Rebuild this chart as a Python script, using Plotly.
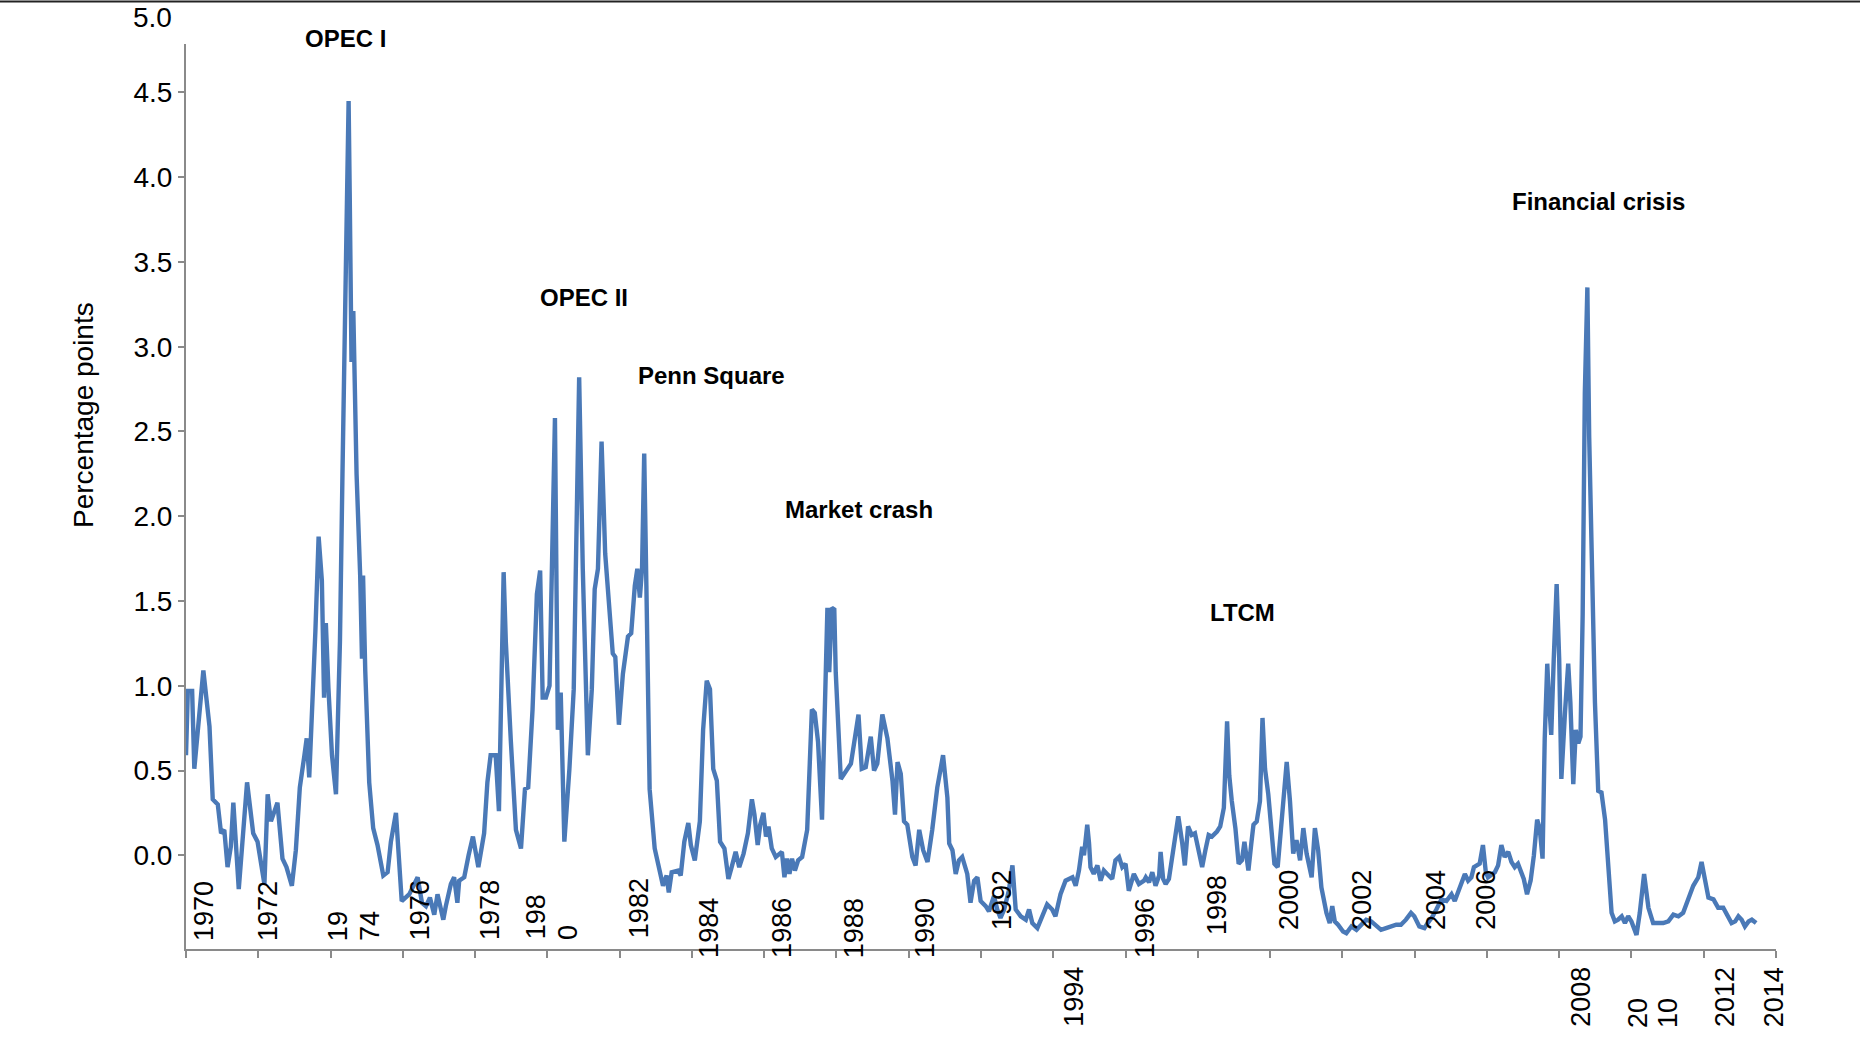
import plotly.graph_objects as go

# ---------------- data ----------------
years = [
    1970.00, 1970.05, 1970.17, 1970.23, 1970.48, 1970.65, 1970.74, 1970.88, 1970.97, 1971.06,
    1971.15, 1971.24, 1971.31, 1971.46, 1971.69, 1971.86, 1971.98, 1972.17, 1972.26, 1972.35,
    1972.53, 1972.67, 1972.78, 1972.93, 1973.04, 1973.15, 1973.27, 1973.34, 1973.41, 1973.50,
    1973.58, 1973.67, 1973.76, 1973.82, 1973.87, 1973.94, 1974.04, 1974.15, 1974.26, 1974.33,
    1974.40, 1974.50, 1974.53, 1974.58, 1974.63, 1974.72, 1974.82, 1974.87, 1974.90, 1974.96,
    1975.07, 1975.18, 1975.30, 1975.46, 1975.58, 1975.67, 1975.81, 1975.90, 1975.97, 1976.18,
    1976.41, 1976.53, 1976.64, 1976.75, 1976.87, 1976.96, 1977.12, 1977.19, 1977.33, 1977.42,
    1977.51, 1977.56, 1977.70, 1977.82, 1977.94, 1978.09, 1978.25, 1978.34, 1978.43, 1978.57,
    1978.66, 1978.79, 1978.85, 1978.99, 1979.13, 1979.27, 1979.38, 1979.47, 1979.59, 1979.71,
    1979.80, 1979.87, 1979.96, 1980.06, 1980.15, 1980.21, 1980.29, 1980.37, 1980.47, 1980.61,
    1980.73, 1980.81, 1980.88, 1980.98, 1981.12, 1981.23, 1981.31, 1981.40, 1981.50, 1981.60,
    1981.72, 1981.81, 1981.88, 1981.98, 1982.09, 1982.23, 1982.32, 1982.42, 1982.49, 1982.56,
    1982.62, 1982.68, 1982.74, 1982.83, 1982.97, 1983.11, 1983.20, 1983.30, 1983.36, 1983.44,
    1983.62, 1983.69, 1983.79, 1983.90, 1983.97, 1984.08, 1984.22, 1984.31, 1984.41, 1984.50,
    1984.59, 1984.69, 1984.78, 1984.90, 1985.01, 1985.10, 1985.21, 1985.31, 1985.43, 1985.55,
    1985.66, 1985.73, 1985.82, 1985.89, 1985.98, 1986.05, 1986.12, 1986.21, 1986.32, 1986.49,
    1986.56, 1986.63, 1986.70, 1986.77, 1986.85, 1986.94, 1987.05, 1987.19, 1987.32, 1987.40,
    1987.49, 1987.60, 1987.75, 1987.80, 1987.87, 1987.94, 1987.98, 1988.12, 1988.26, 1988.40,
    1988.61, 1988.70, 1988.81, 1988.95, 1989.04, 1989.13, 1989.27, 1989.41, 1989.55, 1989.62,
    1989.69, 1989.78, 1989.87, 1989.96, 1990.10, 1990.19, 1990.29, 1990.40, 1990.52, 1990.65,
    1990.79, 1990.95, 1991.07, 1991.12, 1991.21, 1991.30, 1991.39, 1991.48, 1991.62, 1991.71,
    1991.81, 1991.90, 1991.99, 1992.13, 1992.22, 1992.36, 1992.45, 1992.54, 1992.64, 1992.77,
    1992.87, 1992.96, 1993.10, 1993.24, 1993.33, 1993.42, 1993.56, 1993.70, 1993.83, 1993.97,
    1994.06, 1994.20, 1994.34, 1994.53, 1994.62, 1994.71, 1994.80, 1994.85, 1994.89, 1994.94,
    1994.99, 1995.03, 1995.12, 1995.22, 1995.31, 1995.40, 1995.49, 1995.63, 1995.72, 1995.82,
    1995.91, 1996.00, 1996.09, 1996.23, 1996.37, 1996.51, 1996.56, 1996.65, 1996.74, 1996.83,
    1996.93, 1996.97, 1997.04, 1997.11, 1997.20, 1997.29, 1997.46, 1997.57, 1997.64, 1997.73,
    1997.83, 1997.92, 1998.01, 1998.12, 1998.21, 1998.30, 1998.39, 1998.53, 1998.62, 1998.72,
    1998.81, 1998.87, 1998.94, 1999.04, 1999.13, 1999.22, 1999.29, 1999.40, 1999.48, 1999.54,
    1999.63, 1999.72, 1999.79, 1999.86, 1999.95, 2000.05, 2000.12, 2000.21, 2000.32, 2000.46,
    2000.55, 2000.64, 2000.73, 2000.83, 2000.92, 2001.01, 2001.15, 2001.24, 2001.33, 2001.42,
    2001.56, 2001.65, 2001.72, 2001.79, 2001.88, 2002.02, 2002.11, 2002.25, 2002.39, 2002.52,
    2002.66, 2002.80, 2002.94, 2003.07, 2003.21, 2003.35, 2003.49, 2003.62, 2003.76, 2003.90,
    2003.99, 2004.13, 2004.27, 2004.36, 2004.50, 2004.60, 2004.74, 2004.88, 2005.02, 2005.11,
    2005.25, 2005.39, 2005.48, 2005.57, 2005.64, 2005.80, 2005.89, 2005.97, 2006.03, 2006.13,
    2006.22, 2006.31, 2006.40, 2006.49, 2006.59, 2006.68, 2006.77, 2006.86, 2006.96, 2007.02,
    2007.11, 2007.21, 2007.30, 2007.39, 2007.46, 2007.54, 2007.60, 2007.67, 2007.72, 2007.78,
    2007.85, 2007.93, 2008.00, 2008.06, 2008.16, 2008.25, 2008.31, 2008.39, 2008.46, 2008.53,
    2008.59, 2008.65, 2008.71, 2008.78, 2008.83, 2008.90, 2008.99, 2009.08, 2009.17, 2009.27,
    2009.36, 2009.45, 2009.54, 2009.63, 2009.73, 2009.82, 2009.91, 2010.00, 2010.14, 2010.23,
    2010.35, 2010.47, 2010.60, 2010.74, 2010.88, 2011.02, 2011.16, 2011.30, 2011.43, 2011.57,
    2011.71, 2011.85, 2011.94, 2012.04, 2012.13, 2012.27, 2012.40, 2012.54, 2012.68, 2012.77,
    2012.87, 2012.96, 2013.05, 2013.14, 2013.24, 2013.33, 2013.45,
]

spread = [
    0.59, 0.97, 0.97, 0.51, 1.09, 0.76, 0.33, 0.30, 0.13, 0.15,
    -0.07, 0.05, 0.31, -0.20, 0.43, 0.13, 0.08, -0.17, 0.36, 0.20,
    0.31, -0.02, -0.07, -0.18, 0.03, 0.40, 0.58, 0.69, 0.46, 0.86,
    1.32, 1.88, 1.62, 0.93, 1.37, 0.99, 0.59, 0.36, 1.26, 2.25,
    3.24, 4.45, 3.91, 2.91, 3.21, 2.25, 1.65, 1.16, 1.65, 1.09,
    0.43, 0.16, 0.06, -0.12, -0.10, 0.08, 0.25, -0.03, -0.27, -0.23,
    -0.13, -0.28, -0.30, -0.25, -0.35, -0.23, -0.38, -0.30, -0.17, -0.13,
    -0.28, -0.15, -0.13, 0.00, 0.11, -0.07, 0.13, 0.43, 0.59, 0.59,
    0.26, 1.67, 1.26, 0.67, 0.15, 0.04, 0.39, 0.40, 0.86, 1.54,
    1.68, 0.93, 0.93, 1.00, 1.92, 2.58, 0.74, 0.96, 0.08, 0.51,
    0.98, 1.92, 2.82, 1.69, 0.59, 0.98, 1.57, 1.69, 2.44, 1.78,
    1.43, 1.19, 1.17, 0.77, 1.07, 1.29, 1.31, 1.59, 1.69, 1.52,
    1.69, 2.37, 1.59, 0.39, 0.04, -0.10, -0.18, -0.12, -0.22, -0.10,
    -0.09, -0.12, 0.08, 0.19, 0.06, -0.03, 0.20, 0.74, 1.03, 0.98,
    0.51, 0.44, 0.08, 0.04, -0.14, -0.07, 0.02, -0.07, 0.01, 0.13,
    0.33, 0.24, 0.06, 0.18, 0.25, 0.11, 0.17, 0.04, -0.01, 0.02,
    -0.13, -0.02, -0.11, -0.02, -0.09, -0.03, -0.01, 0.15, 0.86, 0.84,
    0.67, 0.21, 1.46, 1.08, 1.46, 1.45, 1.08, 0.45, 0.50, 0.54,
    0.83, 0.51, 0.52, 0.70, 0.50, 0.54, 0.83, 0.69, 0.44, 0.24,
    0.55, 0.48, 0.20, 0.18, -0.01, -0.06, 0.15, 0.03, -0.04, 0.15,
    0.40, 0.59, 0.34, 0.07, 0.03, -0.11, -0.03, -0.01, -0.11, -0.28,
    -0.15, -0.13, -0.27, -0.30, -0.33, -0.24, -0.32, -0.37, -0.32, -0.21,
    -0.06, -0.32, -0.36, -0.38, -0.32, -0.40, -0.43, -0.36, -0.29, -0.32,
    -0.36, -0.23, -0.15, -0.13, -0.18, -0.09, 0.05, 0.00, 0.07, 0.18,
    0.07, -0.07, -0.11, -0.06, -0.15, -0.09, -0.11, -0.14, -0.03, -0.01,
    -0.07, -0.05, -0.21, -0.11, -0.17, -0.15, -0.13, -0.16, -0.10, -0.18,
    -0.12, 0.02, -0.14, -0.17, -0.14, -0.01, 0.23, 0.07, -0.06, 0.17,
    0.12, 0.13, 0.03, -0.07, 0.03, 0.12, 0.11, 0.14, 0.17, 0.28,
    0.79, 0.47, 0.32, 0.16, -0.05, -0.03, 0.08, -0.09, 0.07, 0.18,
    0.20, 0.32, 0.81, 0.51, 0.36, 0.12, -0.05, -0.07, 0.20, 0.55,
    0.32, 0.01, 0.09, -0.03, 0.16, 0.01, -0.13, 0.16, 0.03, -0.19,
    -0.34, -0.40, -0.30, -0.39, -0.41, -0.45, -0.46, -0.42, -0.44, -0.41,
    -0.38, -0.39, -0.42, -0.44, -0.43, -0.42, -0.41, -0.41, -0.38, -0.34,
    -0.36, -0.42, -0.43, -0.40, -0.36, -0.32, -0.26, -0.27, -0.23, -0.27,
    -0.18, -0.11, -0.15, -0.13, -0.07, -0.05, 0.06, -0.10, -0.13, -0.11,
    -0.10, -0.06, 0.06, -0.01, 0.02, -0.04, -0.07, -0.05, -0.10, -0.14,
    -0.23, -0.15, 0.00, 0.21, 0.16, -0.02, 0.69, 1.13, 0.90, 0.71,
    1.16, 1.60, 1.16, 0.45, 0.84, 1.13, 0.90, 0.42, 0.74, 0.66,
    0.70, 1.42, 2.73, 3.35, 2.47, 1.68, 0.90, 0.38, 0.37, 0.21,
    -0.10, -0.34, -0.39, -0.38, -0.36, -0.40, -0.36, -0.39, -0.47, -0.34,
    -0.11, -0.31, -0.40, -0.40, -0.40, -0.39, -0.35, -0.36, -0.34, -0.26,
    -0.18, -0.13, -0.04, -0.15, -0.25, -0.26, -0.31, -0.31, -0.36, -0.40,
    -0.39, -0.36, -0.38, -0.42, -0.39, -0.38, -0.40,
]

y_tick_values = [0.0, 0.5, 1.0, 1.5, 2.0, 2.5, 3.0, 3.5, 4.0, 4.5]
x_tick_years = list(range(1970, 2015, 2))

# year labels as printed in the reference (some are broken in two pieces)
x_label_text = ["1970", "1972", "19", "74", "1976", "1978", "198", "0", "1982", "1984",
                "1986", "1988", "1990", "1992", "1994", "1996", "1998", "2000", "2002",
                "2004", "2006", "2008", "20", "10", "2012", "2014"]

event_names = ["OPEC I", "OPEC II", "Penn Square", "Market crash", "LTCM", "Financial crisis"]

# ---------------- layout helpers (positions, not data) ----------------
FONT = "Liberation Sans, Arial, Helvetica, sans-serif"
W, H = 1860, 1056
ML, MR, MT, MB = 186, 84, 44, 107
PLOT_H = H - MT - MB
PLOT_W = W - ML - MR
Y_MIN, Y_MAX = -0.553, 4.786
AXIS_GRAY = "#8a8a8a"
LINE_BLUE = "#4a79b7"


def py(px):
    """pixel row of the page -> paper y"""
    return (H - MB - px) / PLOT_H


def px_x(px):
    """pixel column of the page -> paper x"""
    return (px - ML) / PLOT_W


x_label_x = [1970.50, 1972.27, 1974.21, 1975.09, 1976.48, 1978.41, 1979.69, 1980.57, 1982.54, 1984.47,
             1986.49, 1988.49, 1990.45, 1992.58, 1994.57, 1996.54, 1998.53, 2000.52, 2002.54,
             2004.59, 2005.97, 2008.60, 2010.18, 2011.01, 2012.59, 2013.95]
x_label_ypx = [911, 911, 926, 926, 910, 910, 917, 932, 908, 928,
               928, 928, 928, 900, 997, 928, 905, 900, 900,
               900, 900, 997, 1013, 1013, 997, 997]
# event label centres: (x in years, y in page pixels)
event_pos = [(1974.40, 38), (1981.01, 297), (1984.55, 375), (1988.62, 510),
             (1999.25, 613), (2009.10, 202)]

fig = go.Figure()
fig.add_trace(go.Scatter(
    x=years, y=spread, mode="lines",
    line=dict(color=LINE_BLUE, width=4.4),
    hoverinfo="x+y", showlegend=False,
))

annotations = []
# x "tick" labels, rotated as in the reference
for txt, xv, ypx in zip(x_label_text, x_label_x, x_label_ypx):
    annotations.append(dict(
        text=txt, x=xv, xref="x", y=py(ypx), yref="paper",
        textangle=-90, showarrow=False, xanchor="center", yanchor="middle",
        font=dict(family=FONT, size=27, color="black"),
    ))
# event labels
for name, (ex, eypx) in zip(event_names, event_pos):
    annotations.append(dict(
        text="<b>%s</b>" % name, x=ex, xref="x", y=py(eypx), yref="paper",
        showarrow=False, xanchor="center", yanchor="middle",
        font=dict(family=FONT, size=24, color="black"),
    ))
# top label "5.0" (above the drawn axis)
annotations.append(dict(
    text="5.0", x=px_x(174), xref="paper", y=py(18), yref="paper",
    showarrow=False, xanchor="right", yanchor="middle",
    font=dict(family=FONT, size=28, color="black"),
))
# y-axis title
annotations.append(dict(
    text="Percentage points", x=px_x(83), xref="paper",
    y=py(415), yref="paper", textangle=-90,
    showarrow=False, xanchor="center", yanchor="middle",
    font=dict(family=FONT, size=28, color="black"),
))

fig.update_layout(
    width=W, height=H, autosize=False,
    margin=dict(l=ML, r=MR, t=MT, b=MB, pad=0),
    paper_bgcolor="white", plot_bgcolor="white",
    font=dict(family=FONT, size=28, color="black"),
    showlegend=False,
    annotations=annotations,
    shapes=[dict(type="line", xref="paper", yref="paper",
                 x0=px_x(0), x1=px_x(W), y0=py(1.5), y1=py(1.5),
                 line=dict(color="#222222", width=2))],
    xaxis=dict(
        range=[1970, 2014], showgrid=False, zeroline=False,
        showline=True, linecolor=AXIS_GRAY, linewidth=2,
        tickmode="array", tickvals=x_tick_years, showticklabels=False,
        ticks="outside", ticklen=7, tickwidth=1.5, tickcolor=AXIS_GRAY,
    ),
    yaxis=dict(
        range=[Y_MIN, Y_MAX], showgrid=False, zeroline=False,
        showline=True, linecolor=AXIS_GRAY, linewidth=2,
        tickmode="array", tickvals=y_tick_values, tickformat=".1f",
        ticks="outside", ticklen=6, tickwidth=1.5, tickcolor=AXIS_GRAY,
        tickfont=dict(family=FONT, size=28, color="black"),
    ),
)

fig.write_html(
    "out.html",
    config={"displayModeBar": False},
    post_script="document.body.style.margin='0';document.body.style.overflow='hidden';",
)
